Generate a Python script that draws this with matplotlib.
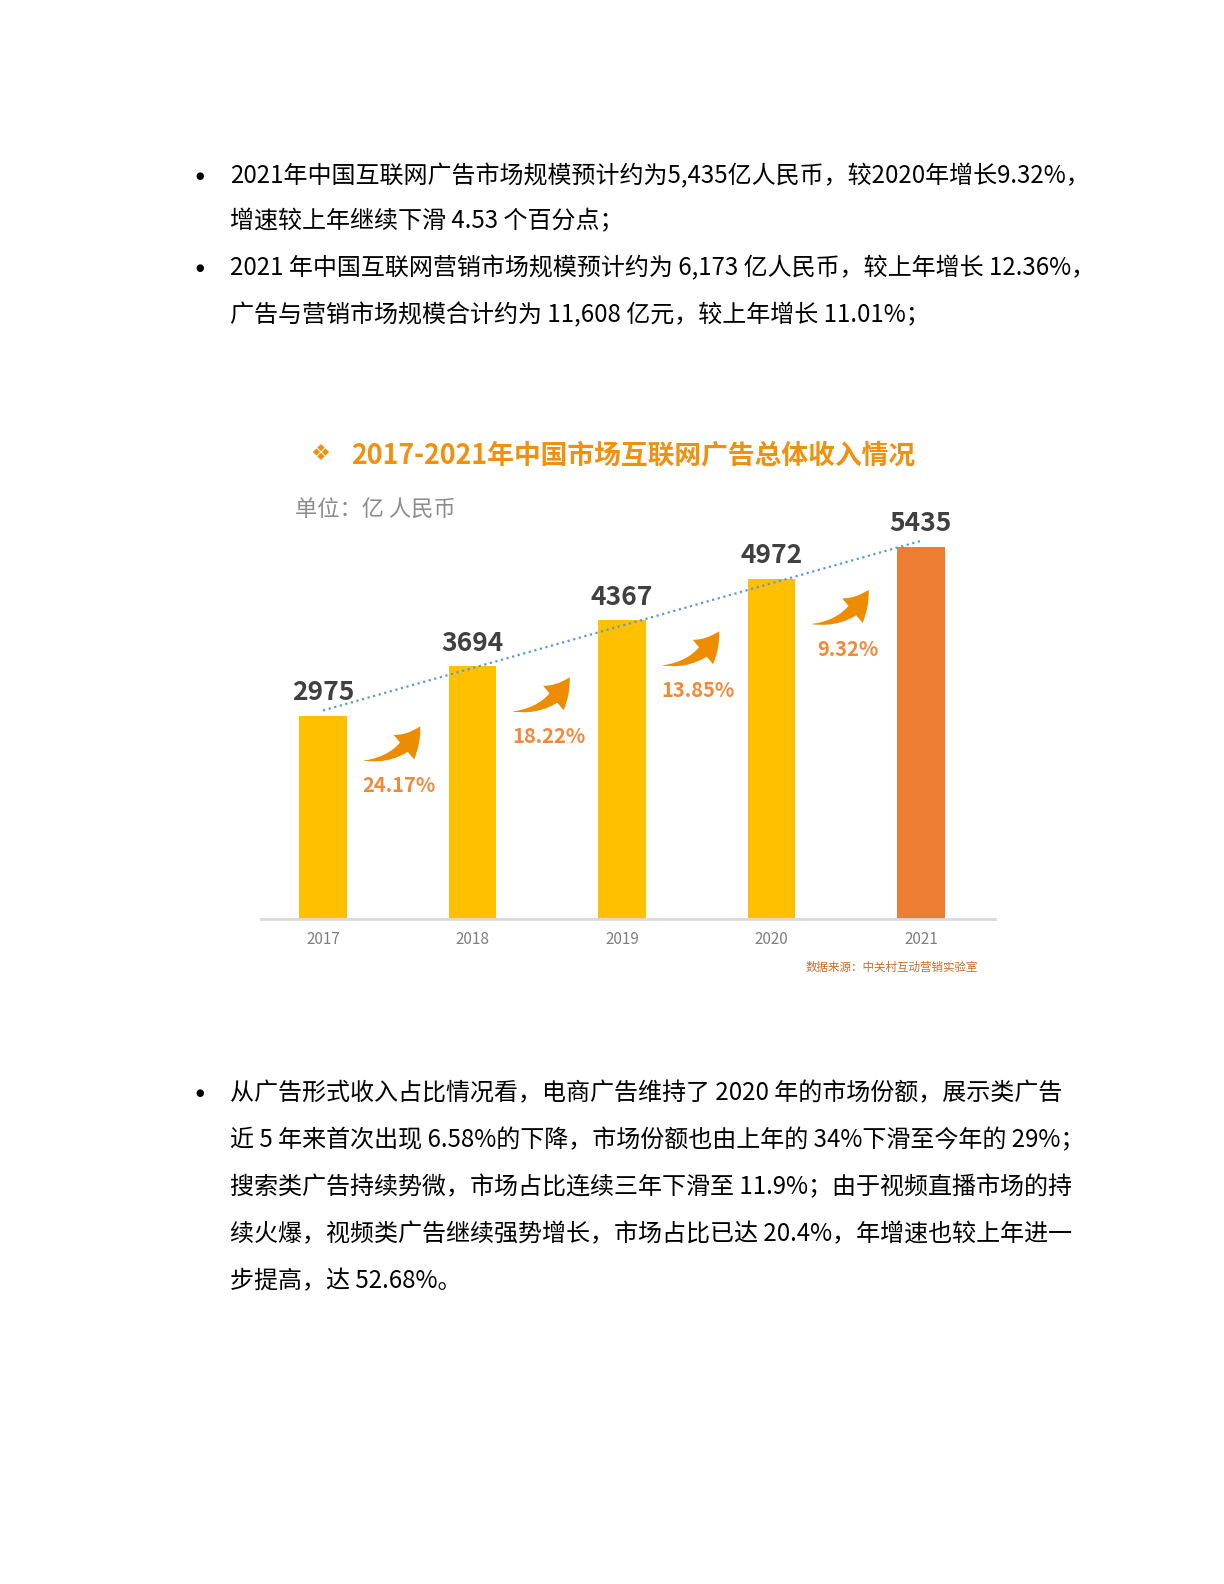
import numpy as np
import matplotlib
matplotlib.use("Agg")
import matplotlib.pyplot as plt
from matplotlib.patches import FancyArrowPatch

plt.rcParams['font.family'] = ['Noto Sans CJK SC', 'DejaVu Sans']

# chart data
years = ['2017', '2018', '2019', '2020', '2021']
revenue = [2975, 3694, 4367, 4972, 5435]
growth = ['24.17%', '18.22%', '13.85%', '9.32%']

title = '2017-2021年中国市场互联网广告总体收入情况'
unit_label = '单位：亿 人民币'
source_label = '数据来源：中关村互动营销实验室'

para1 = [
    '2021年中国互联网广告市场规模预计约为5,435亿人民币，较2020年增长9.32%，',
    '增速较上年继续下滑 4.53 个百分点；',
    '2021 年中国互联网营销市场规模预计约为 6,173 亿人民币，较上年增长 12.36%，',
    '广告与营销市场规模合计约为 11,608 亿元，较上年增长 11.01%；',
]
para2 = [
    '从广告形式收入占比情况看，电商广告维持了 2020 年的市场份额，展示类广告',
    '近 5 年来首次出现 6.58%的下降，市场份额也由上年的 34%下滑至今年的 29%；',
    '搜索类广告持续势微，市场占比连续三年下滑至 11.9%；由于视频直播市场的持',
    '续火爆，视频类广告继续强势增长，市场占比已达 20.4%，年增速也较上年进一',
    '步提高，达 52.68%。',
]

W, H = 1224, 1584
fig = plt.figure(figsize=(W / 100, H / 100), dpi=100)
fig.patch.set_facecolor('white')


def fx(px):
    return px / W


def fy(px):
    return 1 - px / H


# document text
def draw_paragraph(lines, y0, step, bullet=True):
    for k, line in enumerate(lines):
        y = fy(y0 + k * step)
        fig.text(fx(230), y, line, fontsize=17.3, color='black',
                 ha='left', va='center')
    if bullet:
        fig.text(fx(200), fy(y0), '●', fontsize=7, color='black',
                 ha='center', va='center', family='DejaVu Sans')


draw_paragraph(para1[:2], 176, 45.5)
draw_paragraph(para1[2:], 268, 47)
draw_paragraph(para2, 1093, 47)

# chart header
fig.text(fx(320), fy(454), '❖', fontsize=16, color='#F0900F',
         ha='center', va='center', family='DejaVu Sans')
fig.text(fx(351), fy(455), title, fontsize=19.3, color='#F0900F',
         fontweight='bold', ha='left', va='center')
fig.text(fx(295), fy(510), unit_label, fontsize=16, color='#8C8C8C',
         ha='left', va='center')
fig.text(fx(978), fy(967), source_label, fontsize=8.3, color='#CF6A22',
         ha='right', va='center')

# chart axes
ax = fig.add_axes([fx(261), fy(919), fx(995) - fx(261), (919 - 508.6) / H])
ax.set_xlim(-0.415, 4.495)
ax.set_ylim(0, 6000)
ax.patch.set_alpha(0)

x = np.arange(len(years))
colors = ['#FFC000'] * (len(years) - 1) + ['#ED7D31']
ax.bar(x, revenue, width=0.318, color=colors, zorder=2)

for xi, v in zip(x, revenue):
    ax.text(xi, v + 340, str(v), fontsize=19, fontweight='bold',
            color='#404040', ha='center', va='center')

# linear trend line
coef = np.polyfit(x, revenue, 1)
xt = np.linspace(0, 4, 50)
ax.plot(xt, np.polyval(coef, xt), color='#5B9BD5', linewidth=1.6,
        linestyle=(0, (1, 1.6)), zorder=3)

# growth arrows (tapered body + head) and labels
for i, g in enumerate(growth):
    v = revenue[i]
    tail = (i + 0.275, v - 660)
    tip = (i + 0.65, v - 160)
    body = FancyArrowPatch(tip, tail, arrowstyle='wedge,tail_width=1.1',
                           connectionstyle='arc3,rad=-0.3',
                           shrinkA=12, shrinkB=0,
                           mutation_scale=10, color='#EE8C00', lw=0, zorder=4)
    head = FancyArrowPatch(tail, tip,
                           arrowstyle='simple,head_length=1.9,head_width=2.3,tail_width=0.05',
                           connectionstyle='arc3,rad=0.3',
                           shrinkA=0, shrinkB=0,
                           mutation_scale=10, color='#EE8C00', lw=0, zorder=4)
    ax.add_patch(body)
    ax.add_patch(head)
    ax.text(i + 0.51, v - 1030, g, fontsize=14.5, fontweight='bold',
            color='#F2893A', ha='center', va='center')

for side in ['top', 'left', 'right']:
    ax.spines[side].set_visible(False)
ax.spines['bottom'].set_color('#D9D9D9')
ax.spines['bottom'].set_linewidth(2)
ax.set_yticks([])
ax.set_xticks(x)
ax.set_xticklabels(years, fontsize=11, color='#7F7F7F')
ax.tick_params(axis='x', length=0, pad=9)

fig.savefig('out.png', dpi=100, facecolor='white')
